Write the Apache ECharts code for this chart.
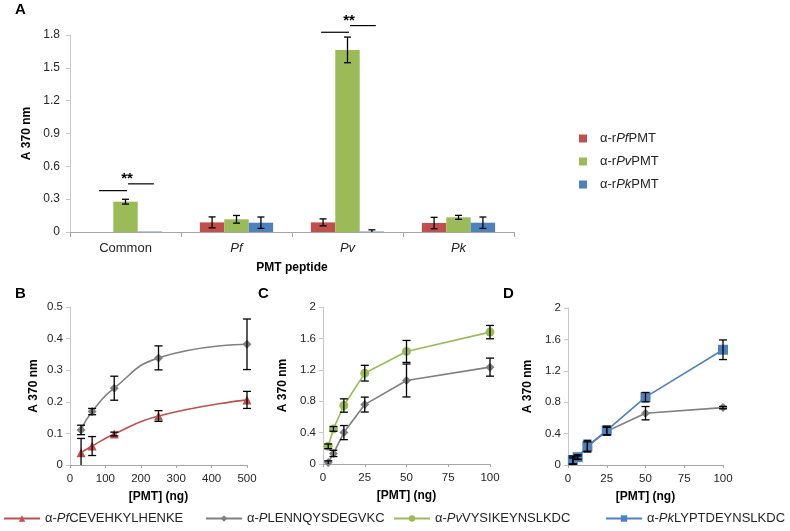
<!DOCTYPE html>
<html><head><meta charset="utf-8">
<script src="https://cdn.jsdelivr.net/npm/echarts@6/dist/echarts.min.js"></script>
<style>html,body{margin:0;padding:0;background:#fff}#c{width:790px;height:531px}</style>
</head><body><div id="c"></div>
<script>
// ---------- Panel A data ----------
const peptideCats = ['Common', 'Pf', 'Pv', 'Pk'];
const barNames = ['α-rPfPMT', 'α-rPvPMT', 'α-rPkPMT'];
const aPf = [0, 0.088, 0.088, 0.082];
const aPfErr = [0, 0.05, 0.032, 0.052];
const aPv = [0.277, 0.116, 1.664, 0.134];
const aPvErr = [0.022, 0.035, 0.117, 0.018];
const aPk = [0.004, 0.085, 0.004, 0.085];
const aPkErr = [0, 0.052, 0.016, 0.052];
const sigCats = ['Common', 'Pv'];
const sigLow = [0.378, 1.825];
const sigHigh = [0.44, 1.886];
const sigText = ['**', '**'];

// ---------- Panel B data ----------
const dosesB = [31.25, 62.5, 125, 250, 500];
const bPf = [0.039, 0.06, 0.098, 0.155, 0.206];
const bPfErr = [0.045, 0.03, 0.006, 0.017, 0.027];
const bP = [0.111, 0.169, 0.243, 0.339, 0.382];
const bPErr = [0.015, 0.01, 0.038, 0.038, 0.08];

// ---------- Panels C & D data ----------
const dosesCD = [3.125, 6.25, 12.5, 25, 50, 100];
const cPv = [0.225, 0.447, 0.745, 1.157, 1.434, 1.68];
const cPvErr = [0.03, 0.03, 0.085, 0.1, 0.14, 0.085];
const cP = [0.02, 0.135, 0.40, 0.757, 1.064, 1.234];
const cPErr = [0.02, 0.04, 0.09, 0.095, 0.21, 0.115];
const dPk = [0.064, 0.10, 0.24, 0.44, 0.864, 1.468];
const dPkErr = [0.05, 0.03, 0.075, 0.055, 0.06, 0.125];
const dP = [0.05, 0.095, 0.235, 0.43, 0.66, 0.731];
const dPErr = [0.04, 0.02, 0.06, 0.05, 0.085, 0.015];

const lineNames = ['α-PfCEVEHKYLHENKE', 'α-PLENNQYSDEGVKC', 'α-PvVYSIKEYNSLKDC', 'α-PkLYPTDEYNSLKDC'];

const RED = '#C0504D', GREEN = '#9BBB59', BLUE = '#4F81BD', GRAY = '#808080';
const FONT = 'Liberation Sans, Arial, sans-serif';
const AXC = '#a6a6a6';
const LBL = '#262626';

const richStyles = {
  s: {width: 8},
  n: {fontFamily: FONT, fontSize: 13, color: LBL},
  i: {fontFamily: FONT, fontSize: 13, color: LBL, fontStyle: 'italic'}
};
const legendFmt = {
  'α-rPfPMT': '{s|}{n|α-r}{i|Pf}{n|PMT}',
  'α-rPvPMT': '{s|}{n|α-r}{i|Pv}{n|PMT}',
  'α-rPkPMT': '{s|}{n|α-r}{i|Pk}{n|PMT}',
  'α-PfCEVEHKYLHENKE': '{n|α-}{i|Pf}{n|CEVEHKYLHENKE}',
  'α-PLENNQYSDEGVKC': '{n|α-}{i|P}{n|LENNQYSDEGVKC}',
  'α-PvVYSIKEYNSLKDC': '{n|α-}{i|Pv}{n|VYSIKEYNSLKDC}',
  'α-PkLYPTDEYNSLKDC': '{n|α-}{i|Pk}{n|LYPTDEYNSLKDC}'
};

const BAR_FRAC = 0.66;

function errBarRender(params, api) {
  const c = api.value(0), y = api.value(1), e = api.value(2), k = api.value(3);
  if (!e) return;
  const band = api.size([1, 0])[0];
  const bw = band * BAR_FRAC / 3;
  const cx = api.coord([c, 0])[0] + (k - 1) * bw;
  const yt = api.coord([c, y + e])[1];
  const yb = api.coord([c, Math.max(0, y - e)])[1];
  const w = 3.5, st = {stroke: '#000', lineWidth: 1.3};
  const ch = [
    {type: 'line', shape: {x1: cx, y1: yt, x2: cx, y2: yb}, style: st},
    {type: 'line', shape: {x1: cx - w, y1: yt, x2: cx + w, y2: yt}, style: st}
  ];
  if (y - e > 0) ch.push({type: 'line', shape: {x1: cx - w, y1: yb, x2: cx + w, y2: yb}, style: st});
  return {type: 'group', children: ch};
}

function xyErrRender(params, api) {
  const x = api.value(0), y = api.value(1), e = api.value(2);
  if (!e) return;
  const pt = api.coord([x, y + e]);
  const pb = api.coord([x, Math.max(0, y - e)]);
  const w = 4, st = {stroke: '#000', lineWidth: 1.3};
  const ch = [
    {type: 'line', shape: {x1: pt[0], y1: pt[1], x2: pb[0], y2: pb[1]}, style: st},
    {type: 'line', shape: {x1: pt[0] - w, y1: pt[1], x2: pt[0] + w, y2: pt[1]}, style: st}
  ];
  if (y - e > 0) ch.push({type: 'line', shape: {x1: pb[0] - w, y1: pb[1], x2: pb[0] + w, y2: pb[1]}, style: st});
  return {type: 'group', children: ch};
}

function sigRender(params, api) {
  const c = api.value(0), lo = api.value(1), hi = api.value(2);
  const band = api.size([1, 0])[0];
  const bw = band * BAR_FRAC / 3;
  const cx = api.coord([c, 0])[0];
  const yl = api.coord([c, lo])[1], yh = api.coord([c, hi])[1];
  const st = {stroke: '#000', lineWidth: 1.2};
  return {type: 'group', children: [
    {type: 'line', shape: {x1: cx - 1.08 * bw, y1: yl, x2: cx + 0.06 * bw, y2: yl}, style: st},
    {type: 'line', shape: {x1: cx + 0.1 * bw, y1: yh, x2: cx + 1.16 * bw, y2: yh}, style: st},
    {type: 'text', x: cx + 0.06 * bw, y: yh + 3, style: {text: sigText[params.dataIndex], fontFamily: FONT, fontSize: 15, fontWeight: 'bold', fill: '#000', align: 'center', verticalAlign: 'bottom'}}
  ]};
}

function zip(xs, ys) { return xs.map((x, i) => [x, ys[i]]); }
function zip3(xs, ys, es) { return xs.map((x, i) => [x, ys[i], es[i]]); }

const barErrData = [];
[[aPf, aPfErr], [aPv, aPvErr], [aPk, aPkErr]].forEach((p, k) => {
  peptideCats.forEach((c, i) => barErrData.push([i, p[0][i], p[1][i], k]));
});
const sigData = sigCats.map((c, i) => [peptideCats.indexOf(c), sigLow[i], sigHigh[i]]);

function valXAxis(grid, max, interval) {
  return {
    type: 'value', gridIndex: grid, min: 0, max: max, interval: interval,
    name: '[PMT] (ng)', nameLocation: 'middle', nameGap: 26,
    nameTextStyle: {fontFamily: FONT, fontSize: 12, fontWeight: 'bold', color: '#000'},
    axisLine: {show: true, lineStyle: {color: AXC}},
    axisTick: {show: true, length: 3, lineStyle: {color: AXC}},
    axisLabel: {fontFamily: FONT, fontSize: 11.5, color: LBL, margin: 8},
    splitLine: {show: false}
  };
}
function valYAxis(grid, max, interval, gap, margin) {
  return {
    type: 'value', gridIndex: grid, min: 0, max: max, interval: interval,
    name: 'A 370 nm', nameLocation: 'middle', nameGap: gap, nameRotate: 90,
    nameTextStyle: {fontFamily: FONT, fontSize: 12, fontWeight: 'bold', color: '#000'},
    axisLine: {show: true, lineStyle: {color: '#c8c8c8'}},
    axisTick: {show: true, length: 4, lineStyle: {color: '#c8c8c8'}},
    axisLabel: {fontFamily: FONT, fontSize: 11.5, color: LBL, margin: margin},
    splitLine: {show: false}
  };
}

function lineSeries(name, xi, data, color, symbol, size, smooth) {
  return {
    type: 'line', name: name, xAxisIndex: xi, yAxisIndex: xi, data: data,
    smooth: smooth ? 0.5 : false, symbol: symbol, symbolSize: size,
    lineStyle: {color: color, width: 1.6}, itemStyle: {color: color},
    z: 3
  };
}
function errSeries(xi, data) {
  return {type: 'custom', xAxisIndex: xi, yAxisIndex: xi, data: data, renderItem: xyErrRender, z: 4, silent: true, clip: false};
}

const legendBase = {
  orient: 'horizontal', itemWidth: 36, itemHeight: 8, top: 512,
  textStyle: {rich: richStyles, fontFamily: FONT, fontSize: 13},
  formatter: n => legendFmt[n], selectedMode: false, padding: 0, itemGap: 6
};
const titleStyle = {fontFamily: FONT, fontSize: 15, fontWeight: 'bold', color: '#000'};

const option = {
  backgroundColor: '#fff',
  animation: false,
  title: [
    {text: 'A', left: 15, top: 2, padding: 0, textStyle: titleStyle},
    {text: 'B', left: 15, top: 286, padding: 0, textStyle: titleStyle},
    {text: 'C', left: 258, top: 286, padding: 0, textStyle: titleStyle},
    {text: 'D', left: 503, top: 286, padding: 0, textStyle: titleStyle}
  ],
  legend: [
    Object.assign({}, legendBase, {
      data: barNames, orient: 'vertical', left: 579, top: 132, itemWidth: 8, itemHeight: 8, itemGap: 10,
      icon: 'rect'
    }),
    Object.assign({}, legendBase, {data: [lineNames[0]], left: 3}),
    Object.assign({}, legendBase, {data: [lineNames[1]], left: 205}),
    Object.assign({}, legendBase, {data: [lineNames[2]], left: 393}),
    Object.assign({}, legendBase, {data: [lineNames[3]], left: 605})
  ],
  grid: [
    {left: 70, top: 35, width: 444, height: 197},
    {left: 70, top: 307, width: 177, height: 158},
    {left: 323, top: 307, width: 167, height: 157},
    {left: 568, top: 308, width: 155, height: 157}
  ],
  xAxis: [
    {
      type: 'category', gridIndex: 0, data: peptideCats,
      name: 'PMT peptide', nameLocation: 'middle', nameGap: 30,
      nameTextStyle: {fontFamily: FONT, fontSize: 12, fontWeight: 'bold', color: '#000'},
      axisLine: {lineStyle: {color: AXC}},
      axisTick: {show: true, length: 5, lineStyle: {color: AXC}},
      axisLabel: {
        margin: 10,
        formatter: v => v === 'Common' ? '{n|Common}' : '{i|' + v + '}',
        rich: {n: {fontFamily: FONT, fontSize: 13, color: LBL}, i: {fontFamily: FONT, fontSize: 13, color: LBL, fontStyle: 'italic'}}
      }
    },
    valXAxis(1, 500, 100),
    valXAxis(2, 100, 25),
    valXAxis(3, 100, 25)
  ],
  yAxis: [
    Object.assign(valYAxis(0, 1.8, 0.3, 33, 10), {
      axisLabel: {fontFamily: FONT, fontSize: 12, color: LBL, margin: 10}
    }),
    valYAxis(1, 0.5, 0.1, 30, 7),
    valYAxis(2, 2, 0.4, 34, 7),
    valYAxis(3, 2, 0.4, 34, 7)
  ],
  series: [
    {type: 'bar', name: barNames[0], data: aPf, itemStyle: {color: RED}, barGap: 0, barCategoryGap: '34%', xAxisIndex: 0, yAxisIndex: 0},
    {type: 'bar', name: barNames[1], data: aPv, itemStyle: {color: GREEN}, xAxisIndex: 0, yAxisIndex: 0},
    {type: 'bar', name: barNames[2], data: aPk, itemStyle: {color: BLUE}, xAxisIndex: 0, yAxisIndex: 0},
    {type: 'custom', xAxisIndex: 0, yAxisIndex: 0, data: barErrData, renderItem: errBarRender, z: 4, silent: true, clip: false},
    {type: 'custom', xAxisIndex: 0, yAxisIndex: 0, data: sigData, renderItem: sigRender, z: 4, silent: true, clip: false},

    lineSeries(lineNames[1], 1, zip(dosesB, bP), GRAY, 'diamond', 9, true),
    lineSeries(lineNames[0], 1, zip(dosesB, bPf), RED, 'triangle', 9, true),
    errSeries(1, zip3(dosesB, bP, bPErr)),
    errSeries(1, zip3(dosesB, bPf, bPfErr)),

    lineSeries(lineNames[1], 2, zip(dosesCD, cP), GRAY, 'diamond', 9, false),
    lineSeries(lineNames[2], 2, zip(dosesCD, cPv), GREEN, 'circle', 9, false),
    errSeries(2, zip3(dosesCD, cP, cPErr)),
    errSeries(2, zip3(dosesCD, cPv, cPvErr)),

    lineSeries(lineNames[1], 3, zip(dosesCD, dP), GRAY, 'diamond', 9, false),
    lineSeries(lineNames[3], 3, zip(dosesCD, dPk), BLUE, 'rect', 10, false),
    errSeries(3, zip3(dosesCD, dP, dPErr)),
    errSeries(3, zip3(dosesCD, dPk, dPkErr))
  ]
};

const chart = echarts.init(document.getElementById('c'), null, {renderer: 'canvas'});
chart.setOption(option);
</script>
</body></html>
